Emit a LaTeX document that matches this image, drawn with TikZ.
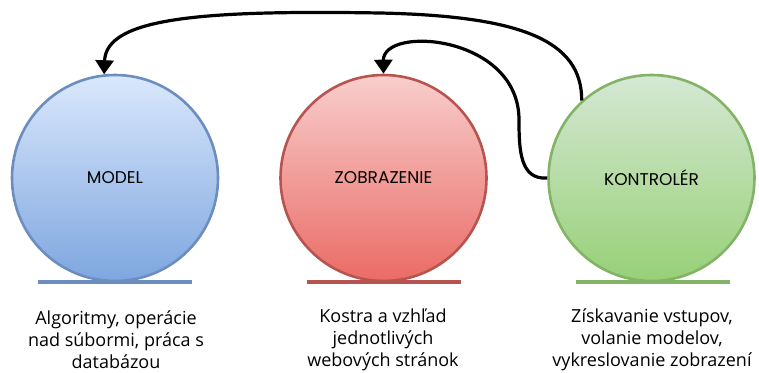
\documentclass[tikz,border=0pt]{standalone}
\usepackage{fontspec}
\setmainfont{Open Sans}
\newfontfamily\labelfont{Poppins}
\usetikzlibrary{arrows.meta}
\definecolor{mstroke}{HTML}{6C8EBF}
\definecolor{mtop}{HTML}{DAE8FC}
\definecolor{mbot}{HTML}{7EA6E0}
\definecolor{zstroke}{HTML}{B85450}
\definecolor{ztop}{HTML}{F8CECC}
\definecolor{zbot}{HTML}{EA6B66}
\definecolor{kstroke}{HTML}{82B366}
\definecolor{ktop}{HTML}{D5E8D4}
\definecolor{kbot}{HTML}{97D077}
\tikzset{
  ball/.style={circle, minimum size=206pt, inner sep=0pt, line width=2.6pt,
    font=\labelfont\fontsize{17}{20}\selectfont},
  base/.style={line width=3.5pt},
  desc/.style={align=center, font=\fontsize{18}{22}\selectfont, inner sep=0pt},
  link/.style={line width=3.2pt, -{Triangle[width=18pt,length=14pt]}}
}
\begin{document}
\begin{tikzpicture}[x=1pt,y=-1pt]
\useasboundingbox (0,0) rectangle (759,372);
\node[ball, draw=mstroke, top color=mtop, bottom color=mbot] (M) at (115,178) {MODEL};
\node[ball, draw=zstroke, top color=ztop, bottom color=zbot] (Z) at (383.5,178) {ZOBRAZENIE};
\node[ball, draw=kstroke, top color=ktop, bottom color=kbot] (K) at (651.5,178) {KONTROLÉR};
\draw[base, mstroke] (38,282) -- (192,282);
\draw[base, zstroke] (307,282) -- (461,282);
\draw[base, kstroke] (576,282) -- (730,282);
\node[desc] (dm) at (116,340) {Algoritmy, operácie\\nad súbormi, práca s\\databázou};
\node[desc] (dz) at (383,340) {Kostra a vzhľad\\jednotlivých\\webových stránok};
\node[desc] (dk) at (652,340) {Získavanie vstupov,\\volanie modelov,\\vykreslovanie zobrazení};
\draw[link] (K.132) .. controls (582,40) and (520,16) .. (380,13)
  .. controls (200,10) and (106,18) .. (M.96);
\draw[link] (K.west) .. controls (520,180) and (519,150) .. (519,120)
  .. controls (519,35) and (383,25) .. (Z.north);
\end{tikzpicture}
\end{document}
